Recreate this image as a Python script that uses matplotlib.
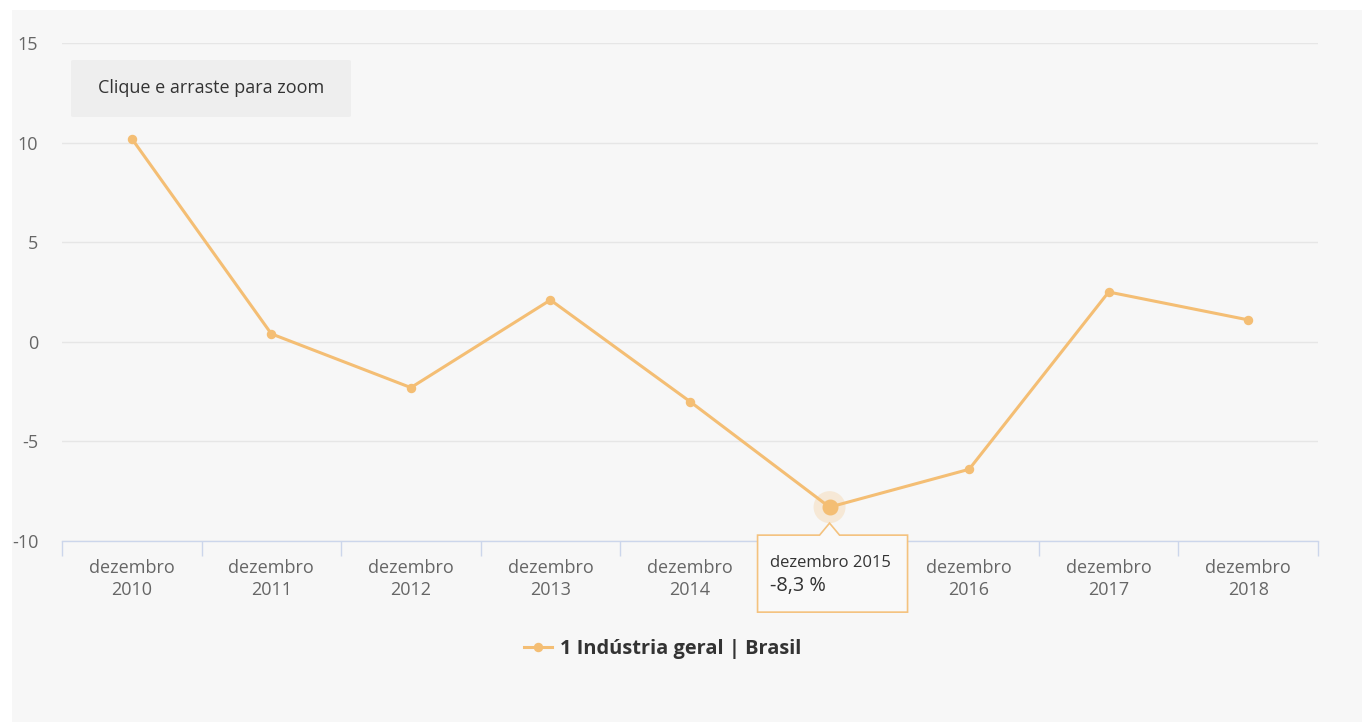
import matplotlib
matplotlib.use('Agg')
import matplotlib.pyplot as plt
from matplotlib.patches import Rectangle, Polygon, Circle, FancyBboxPatch
from matplotlib.lines import Line2D

plt.rcParams['font.family'] = ['Open Sans', 'DejaVu Sans']

# Dados
anos = ['2010', '2011', '2012', '2013', '2014', '2015', '2016', '2017', '2018']
rotulos = ['dezembro\n' + a for a in anos]
valores = [10.2, 0.4, -2.3, 2.1, -3.0, -8.3, -6.4, 2.5, 1.1]
serie_nome = '1 Indústria geral | Brasil'
y_ticks = [-10, -5, 0, 5, 10, 15]
destaque = 5  # ponto com tooltip (dezembro 2015)

cor_linha = '#F4BE74'
W, H = 1362, 722
fig = plt.figure(figsize=(W / 100, H / 100), dpi=100, facecolor='white')

# Fundo cinza do gráfico
fig.patches.append(Rectangle((12 / W, 0), 1 - 12 / W, 1 - 10 / H,
                             transform=fig.transFigure, facecolor='#f7f7f7',
                             edgecolor='none', zorder=-10))

ax = fig.add_axes([62 / W, 1 - 541 / H, (1318 - 62) / W, (541 - 43) / H])
ax.set_facecolor('none')
x = list(range(len(anos)))
ax.plot(x, valores, color=cor_linha, lw=2.2, marker='o', markersize=5.8,
        zorder=3, clip_on=False)

ax.set_xlim(-0.5, len(anos) - 0.5)
ax.set_ylim(-10, 15)
ax.set_yticks(y_ticks)
ax.set_yticklabels([str(v) for v in y_ticks])
ax.grid(axis='y', color='#e6e6e6', lw=1)
ax.set_axisbelow(True)
for s in ['top', 'right', 'left']:
    ax.spines[s].set_visible(False)
ax.spines['bottom'].set_color('#ccd6eb')
ax.spines['bottom'].set_linewidth(1)
ax.tick_params(axis='y', length=0, pad=17, labelsize=13, labelcolor='#666666')

ax.set_xticks(x)
ax.set_xticklabels(rotulos, fontsize=13, color='#666666', linespacing=1.25)
ax.set_xticks([i - 0.5 for i in range(len(anos) + 1)], minor=True)
ax.tick_params(axis='x', which='major', length=0, pad=13)
ax.tick_params(axis='x', which='minor', length=11, width=1, color='#ccd6eb')
# rótulo coberto pelo tooltip
ax.get_xticklabels()[destaque].set_visible(False)

# Botão de zoom
fig.patches.append(FancyBboxPatch((71 / W, 1 - 117 / H), 280 / W, 57 / H,
                                  boxstyle='round,pad=0,rounding_size=0.002',
                                  transform=fig.transFigure, facecolor='#eeeeee',
                                  edgecolor='none', zorder=1))
fig.text(211 / W, 1 - 88 / H, 'Clique e arraste para zoom', ha='center',
         va='center', fontsize=13, color='#333333')

# Tooltip / destaque
fig.canvas.draw()
px, py = ax.transData.transform((destaque, valores[destaque]))
ax.add_patch(Circle((px, py), 16, transform=None, facecolor=cor_linha,
                    alpha=0.25, edgecolor='none', zorder=2, clip_on=False))
ax.plot([destaque], [valores[destaque]], 'o', color=cor_linha,
        markersize=10.5, zorder=4)

x0, x1 = px - 72, px + 78
ytop, ybot = py - 28, py - 105
caixa = [(x0, ytop), (px - 10, ytop), (px, py - 16), (px + 10, ytop),
         (x1, ytop), (x1, ybot), (x0, ybot)]
tip = Polygon(caixa, closed=True, transform=None, facecolor='#f9f9f9',
              edgecolor='#F4C27E', lw=1.2, zorder=5, clip_on=False)
fig.patches.append(tip)
fig.text((x0 + 12) / W, (py - 56) / H, 'dezembro 2015', fontsize=12,
         color='#333333', va='center', ha='left', zorder=6)
fig.text((x0 + 12) / W, (py - 79) / H, '-8,3 %', fontsize=14.3,
         color='#333333', va='center', ha='left', zorder=6)

# Legenda
handle = Line2D([], [], color=cor_linha, lw=2.2, marker='o', markersize=5.8)
fig.legend([handle], [serie_nome], loc='center', frameon=False,
           bbox_to_anchor=(663 / W, 1 - 649 / H), handlelength=1.4,
           handletextpad=0.4, prop={'weight': 'bold', 'size': 14.4},
           labelcolor='#333333')

fig.savefig('out.png', dpi=100, facecolor='white')
